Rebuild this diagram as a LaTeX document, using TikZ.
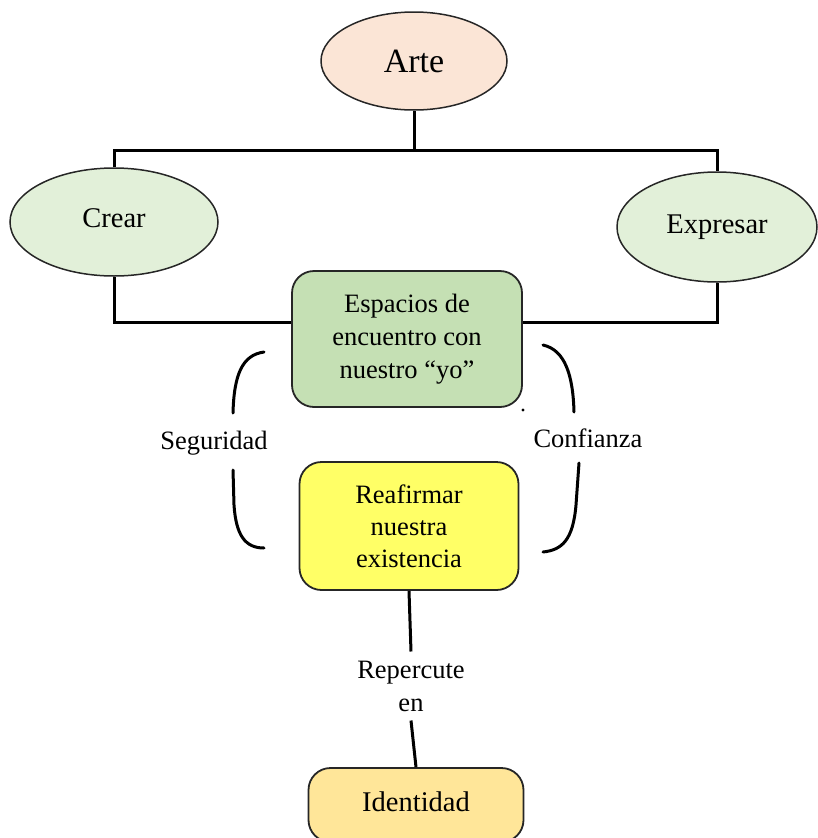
\documentclass[tikz,border=0pt]{standalone}
\usepackage{fontspec}
\setmainfont{Liberation Serif}
\usetikzlibrary{shapes.geometric}
\definecolor{peach}{HTML}{FBE5D6}
\definecolor{lgreen}{HTML}{E2F0D9}
\definecolor{mgreen}{HTML}{C5E0B4}
\definecolor{yel}{HTML}{FFFF66}
\definecolor{gold}{HTML}{FFE699}
\definecolor{edge}{HTML}{262626}
\tikzset{
  oval/.style={ellipse, draw=edge, line width=1.5pt, inner sep=0pt, align=center},
  rbox/.style={rectangle, rounded corners=22pt, draw=edge, line width=1.8pt, inner sep=0pt, align=center},
  conn/.style={line width=3pt, black},
  brk/.style={line width=3pt, black, line cap=round},
  lbl/.style={align=center, inner sep=0pt, font=\fontsize{26.5}{33}\selectfont},
}
\begin{document}
\begin{tikzpicture}[x=1pt,y=-1pt]
\useasboundingbox (0,0) rectangle (817,838);
% nodes
\node[oval, fill=peach, minimum width=186pt, minimum height=98pt, font=\fontsize{34}{40}\selectfont] (arte) at (414,61) {Arte};
\node[oval, fill=lgreen, minimum width=208pt, minimum height=108pt, font=\fontsize{28.5}{34}\selectfont] (crear) at (114,222) {\raisebox{8pt}{Crear}};
\node[oval, fill=lgreen, minimum width=200pt, minimum height=110pt, font=\fontsize{28.5}{34}\selectfont] (expr) at (717,227) {\raisebox{6pt}{Expresar}};
\node[rbox, fill=mgreen, minimum width=230pt, minimum height=136pt, font=\fontsize{26.5}{33}\selectfont] (esp) at (407,339) {Espacios de\\encuentro con\\nuestro “yo”};
\node[rbox, fill=yel, minimum width=219pt, minimum height=128pt, font=\fontsize{26.5}{32}\selectfont] (reaf) at (409,526) {Reafirmar\\nuestra\\existencia};
\node[rbox, fill=gold, minimum width=215pt, minimum height=74pt, font=\fontsize{28.5}{34}\selectfont] (ident) at (416,805) {\raisebox{6pt}{Identidad}};
\node[lbl, inner ysep=9pt] (rep) at (411,686) {Repercute\\en};
\node[lbl] (seg) at (214,443) {Seguridad};
\node[lbl] (conf) at (588,438) {Confianza};
% connectors
\coordinate (j) at (414,150);
\draw[conn] (arte.south) -- (j);
\draw[conn] (crear.north) |- (j) -| (expr.north);
\draw[conn] (crear.south) |- (esp.west |- 0,322);
\draw[conn] (expr.south) |- (esp.east |- 0,322);
\draw[conn] (reaf.south) -- (rep.north);
\draw[conn] (rep.south) -- (ident.north);
% brackets
\draw[brk] (264,352) .. controls (242,355) and (234,375) .. (233,413);
\draw[brk] (233,470) -- (234,505) .. controls (236,535) and (245,548) .. (264,548);
\draw[brk] (543,345) .. controls (565,350) and (573,375) .. (574,412);
\draw[brk] (579,463) -- (576,505) .. controls (573,540) and (562,550) .. (543,552);
\fill (523,410) circle (1.6pt);
\end{tikzpicture}
\end{document}
